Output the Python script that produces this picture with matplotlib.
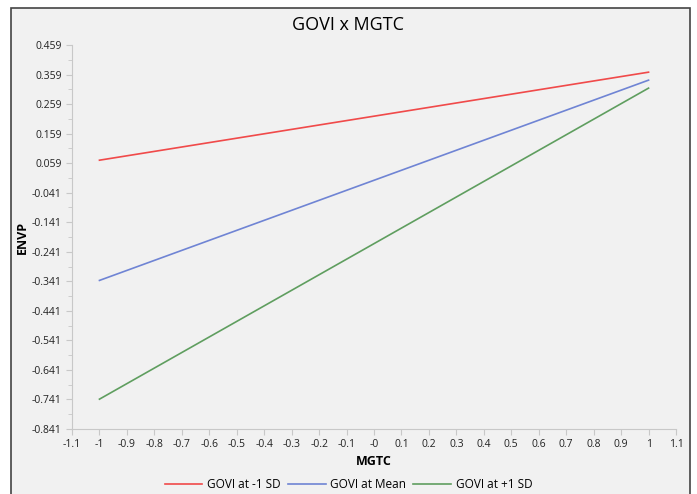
import matplotlib.pyplot as plt
from matplotlib.patches import Rectangle
import numpy as np

plt.rcParams['font.family'] = ['Open Sans', 'DejaVu Sans']

mgtc = [-1, 1]
govi_low = [0.069, 0.367]
govi_mean = [-0.338, 0.340]
govi_high = [-0.740, 0.313]
labels = ['GOVI at -1 SD', 'GOVI at Mean', 'GOVI at +1 SD']
colors = ['#f04a4a', '#6f84d4', '#5f9e5f']

yticks = np.round(np.arange(-0.841, 0.46, 0.1), 3)
xticks = np.round(np.arange(-1.1, 1.11, 0.1), 1)

fig = plt.figure(figsize=(6.97, 4.94), dpi=100)
fig.patch.set_facecolor('white')
# outer panel
fig.patches.append(Rectangle((11 / 697, -0.05), 679 / 697, 1.05 - 8 / 494,
                             transform=fig.transFigure, facecolor='#f1f1f1',
                             edgecolor='#444444', linewidth=1.2, zorder=-5))

ax = fig.add_axes([72 / 697, (494 - 429) / 494, (676 - 72) / 697, (429 - 45) / 494])
ax.set_facecolor('none')

for ys, c, lab in zip([govi_low, govi_mean, govi_high], colors, labels):
    ax.plot(mgtc, ys, color=c, lw=1.2, label=lab)

ax.set_xlim(-1.1, 1.1)
ax.set_ylim(-0.841, 0.459)
ax.set_yticks(yticks)
ax.set_yticklabels(['%.3f' % v for v in yticks])
ax.set_yticks(yticks[:-1] + 0.05, minor=True)
ax.set_xticks(xticks)
xl = []
for v in xticks:
    if abs(v) < 1e-9:
        xl.append('-0')
    elif abs(v - round(v)) < 1e-9:
        xl.append('%d' % round(v))
    else:
        xl.append('%g' % v)
ax.set_xticklabels(xl)

for s in ['top', 'right']:
    ax.spines[s].set_visible(False)
for s in ['left', 'bottom']:
    ax.spines[s].set_color('#c8c8c8')
ax.tick_params(which='both', colors='#c8c8c8', labelcolor='#222222',
               labelsize=7.5, length=4)
ax.tick_params(which='minor', length=3)

ax.set_xlabel('MGTC', fontsize=9, fontweight='bold', labelpad=3)
ax.set_ylabel('ENVP', fontsize=9, fontweight='bold', labelpad=2)
fig.text(0.5, 1 - 25 / 494, 'GOVI x MGTC', ha='center', va='center', fontsize=13)

fig.legend(loc='lower center', ncol=3, frameon=False, fontsize=8.5,
           bbox_to_anchor=(0.5, -0.016), handlelength=3.2, columnspacing=0.6,
           handletextpad=0.4)

fig.savefig('out.png', dpi=100)
